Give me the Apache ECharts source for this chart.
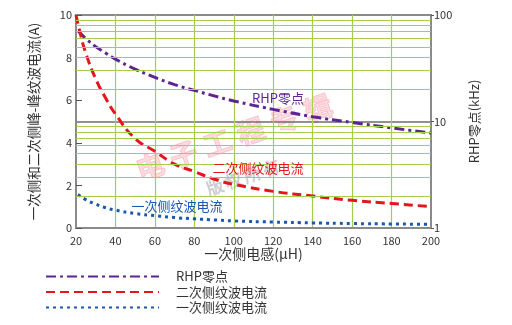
<!DOCTYPE html>
<html><head><meta charset="utf-8">
<script src="https://cdn.jsdelivr.net/npm/echarts@6/dist/echarts.min.js"></script>
<style>html,body{margin:0;padding:0;background:#fff}#c{width:512px;height:325px}</style>
</head><body><div id="c"></div>
<script>
// Primary inductance (µH) sample points for each curve
const rhpL = [21, 25, 30, 35, 40, 50, 60, 70, 80, 90, 100, 120, 140, 160, 180, 200];
const rhpZero = [71, 60, 50.5, 44, 38.5, 31, 26, 22.2, 19.6, 17.4, 15.6, 13.0, 11.1, 9.8, 8.7, 7.8]; // kHz

const secL = [20, 22, 25, 30, 35, 40, 50, 60, 70, 80, 90, 100, 120, 140, 160, 180, 200];
const secondaryRipple = [10, 9.2, 8.2, 7.0, 6.1, 5.35, 4.2, 3.6, 3.0, 2.65, 2.3, 2.05, 1.72, 1.5, 1.3, 1.15, 1.0]; // A p-p

const priL = [21, 25, 30, 35, 40, 50, 60, 70, 80, 90, 100, 120, 140, 160, 180, 200];
const primaryRipple = [1.57, 1.33, 1.12, 0.95, 0.84, 0.68, 0.58, 0.49, 0.43, 0.38, 0.33, 0.28, 0.24, 0.21, 0.19, 0.17]; // A p-p

const xTicks = [20, 40, 60, 80, 100, 120, 140, 160, 180, 200];
const logMinor = [2, 3, 4, 5, 6, 7, 8, 9, 20, 30, 40, 50, 60, 70, 80, 90];

const names = ['RHP零点', '二次侧纹波电流', '一次侧纹波电流'];
const watermark = '电子工程专辑';
const copyright = '版权所有';

const FONT = '"Noto Sans CJK SC", "Noto Sans", sans-serif';
const GREEN = '#a3cf4f';
const C_PURPLE = '#5e2590', C_RED = '#e8141c', C_BLUE = '#1857b0';

const pair = (xs, ys) => xs.map((x, i) => [x, ys[i]]);

// lay characters out along a slanted baseline
function slantedText(text, x0, y0, x1, y1, font, fill, stroke) {
  const n = text.length;
  const rot = Math.atan2(y0 - y1, x1 - x0);
  return Array.from(text).map((ch, i) => ({
    type: 'text', z: 0, silent: true,
    x: x0 + (x1 - x0) * i / (n - 1), y: y0 + (y1 - y0) * i / (n - 1), rotation: rot,
    style: {text: ch, x: 0, y: 0, align: 'center', verticalAlign: 'middle', font: font,
            fill: fill, stroke: stroke, lineWidth: 1}
  }));
}

const chart = echarts.init(document.getElementById('c'), null, {renderer: 'canvas'});
chart.setOption({
  animation: false,
  textStyle: {fontFamily: FONT},
  grid: {left: 76, right: 81, top: 15, bottom: 97, show: true, borderColor: '#8a8a8a', borderWidth: 2, backgroundColor: 'transparent'},
  xAxis: {
    type: 'value', min: xTicks[0], max: xTicks[xTicks.length - 1], interval: 20,
    name: '一次侧电感(μH)', nameLocation: 'middle', nameGap: 19, nameMoveOverlap: false,
    nameTextStyle: {fontSize: 14, color: '#333', fontFamily: FONT},
    axisLine: {show: true, lineStyle: {color: '#8a8a8a', width: 2}},
    axisTick: {show: false},
    axisLabel: {fontSize: 11, color: '#333', margin: 7, fontFamily: FONT},
    splitLine: {show: true, showMinLine: false, showMaxLine: false, lineStyle: {color: GREEN, width: 1.2}}
  },
  yAxis: [{
    type: 'value', min: 0, max: 10, interval: 2, position: 'left',
    name: '一次侧和二次侧峰-峰纹波电流(A)', nameLocation: 'middle', nameGap: 35, nameRotate: 90, nameMoveOverlap: false,
    nameTextStyle: {fontSize: 13.5, color: '#333', fontFamily: FONT},
    axisLine: {show: true, lineStyle: {color: '#8a8a8a', width: 2}},
    axisTick: {show: true, inside: true, length: 6, lineStyle: {color: '#555', width: 1}},
    axisLabel: {fontSize: 11, color: '#333', margin: 4, fontFamily: FONT},
    splitLine: {show: false}
  }, {
    type: 'log', logBase: 10, min: 1, max: 100, position: 'right',
    name: 'RHP零点(kHz)', nameLocation: 'middle', nameGap: 37, nameRotate: 90, nameMoveOverlap: false,
    nameTextStyle: {fontSize: 13, color: '#333', fontFamily: FONT},
    axisLine: {show: true, lineStyle: {color: '#8a8a8a', width: 2}},
    axisTick: {show: true, length: 3, lineStyle: {color: '#555'}},
    axisLabel: {fontSize: 11, color: '#333', margin: 3, fontFamily: FONT},
    splitLine: {show: true, showMinLine: false, showMaxLine: false, lineStyle: {color: '#6d6d6d', width: 1.5}}
  }],
  legend: {
    orient: 'vertical', left: 45, top: 270, padding: 0, height: 56,
    itemWidth: 113, itemHeight: 12, itemGap: 2.5,
    data: names, selectedMode: false,
    itemStyle: {opacity: 0},
    textStyle: {fontSize: 13, lineHeight: 13, color: '#333', fontFamily: FONT, padding: [0, 0, 0, 12]}
  },
  series: [{
    // logarithmic minor grid on the right axis
    type: 'line', yAxisIndex: 1, data: [], silent: true, z: 1,
    markLine: {
      silent: true, symbol: 'none', label: {show: false}, animation: false,
      lineStyle: {color: GREEN, width: 1.2, type: 'solid'},
      data: logMinor.map(v => ({yAxis: v}))
    }
  }, {
    name: names[0], type: 'line', yAxisIndex: 1, smooth: true, symbol: 'none', z: 3,
    data: pair(rhpL, rhpZero),
    lineStyle: {color: C_PURPLE, width: 3, type: [10, 4, 3, 4]},
    itemStyle: {color: C_PURPLE}
  }, {
    name: names[1], type: 'line', yAxisIndex: 0, smooth: true, symbol: 'none', z: 3,
    data: pair(secL, secondaryRipple),
    lineStyle: {color: C_RED, width: 3, type: [9, 5]},
    itemStyle: {color: C_RED}
  }, {
    name: names[2], type: 'line', yAxisIndex: 0, smooth: true, symbol: 'none', z: 3,
    data: pair(priL, primaryRipple),
    lineStyle: {color: C_BLUE, width: 3, type: [3, 4], cap: 'butt'},
    itemStyle: {color: C_BLUE}
  }],
  graphic: [
    ...slantedText(watermark, 150, 166, 318, 108, 'bold 28px ' + FONT, 'rgba(245,150,160,0.33)', 'rgba(235,100,115,0.3)'),
    ...slantedText(copyright, 215, 187, 271, 168, '17px ' + FONT, 'rgba(170,170,170,0.45)', 'rgba(150,150,150,0.3)'),
    {type: 'text', z: 10, x: 278, y: 98,
     style: {text: names[0], align: 'center', verticalAlign: 'middle', font: '13px ' + FONT, fill: C_PURPLE}},
    {type: 'text', z: 10, x: 258, y: 168,
     style: {text: names[1], align: 'center', verticalAlign: 'middle', font: '13px ' + FONT, fill: C_RED}},
    {type: 'text', z: 10, x: 177, y: 206,
     style: {text: names[2], align: 'center', verticalAlign: 'middle', font: '13px ' + FONT, fill: C_BLUE}}
  ]
});
</script>
</body></html>
